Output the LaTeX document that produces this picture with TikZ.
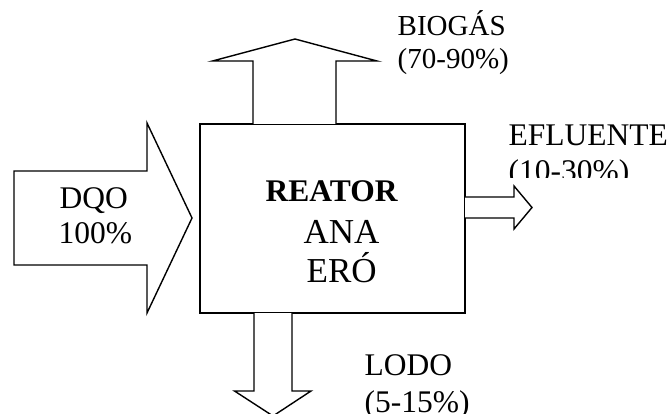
\documentclass[tikz,border=0pt]{standalone}
\usepackage{fontspec}
\setmainfont{Liberation Serif}
\begin{document}
\begin{tikzpicture}[x=1pt, y=-1pt, line width=1.4pt, line join=miter,
  blockarrow/.style={draw=black, fill=white},
  lbl/.style={anchor=base west, inner sep=0pt, font=\fontsize{31.5}{36}\selectfont},
  lblsmall/.style={lbl, font=\fontsize{29}{33}\selectfont},
  lblbig/.style={lbl, font=\fontsize{35}{40}\selectfont}]
\useasboundingbox (0,0) rectangle (669,414);

% reactor block
\node[draw, anchor=north west, minimum width=265pt, minimum height=189pt,
      inner sep=0pt, outer sep=0pt] (reactor) at (200,124) {};

% inflow arrow
\draw[blockarrow] (14,171) -- (147,171) -- (147,123) -- (192,218)
  -- (147,313) -- (147,265) -- (14,265) -- cycle;
% biogas arrow (up)
\draw[blockarrow] (253,124) -- (253,61) -- (212.5,61) -- (295,39)
  -- (377,61) -- (336,61) -- (336,124);
% effluent arrow (right)
\draw[blockarrow] (465,197) -- (514,197) -- (514,186) -- (532,207.5)
  -- (514,229) -- (514,218) -- (465,218);
% sludge arrow (down), its tip runs past the lower edge
\draw[blockarrow] (254,313) -- (254,391) -- (234.5,391) -- (273,416)
  -- (311,391) -- (292,391) -- (292,313);

% inflow label
\node[lbl] (dqo) at (59,208) {DQO};
\node[lbl] (dqopct) at (58,243.5) {100\%};

% reactor labels
\node[lbl, font=\bfseries\fontsize{31.5}{36}\selectfont] (reator) at (265,201) {REATOR};
\node[lblbig] (ana) at (303,243) {ANA};
\node[lblbig] (ero) at (306,282) {ERÓ};

% biogas label
\node[lblsmall] (biogas) at (397,36) {BIOGÁS};
\node[lblsmall] (biogaspct) at (397,69) {(70-90\%)};

% effluent label, second line cut off by its text frame
\node[lbl] (efluente) at (508,145.5) {EFLUENTE};
\begin{scope}
  \clip (500,150) rectangle (669,178);
  \node[lbl] (efluentepct) at (508,181.5) {(10-30\%)};
\end{scope}

% sludge label
\node[lbl] (lodo) at (364,375) {LODO};
\node[lbl] (lodopct) at (364,412) {(5-15\%)};
\end{tikzpicture}
\end{document}
